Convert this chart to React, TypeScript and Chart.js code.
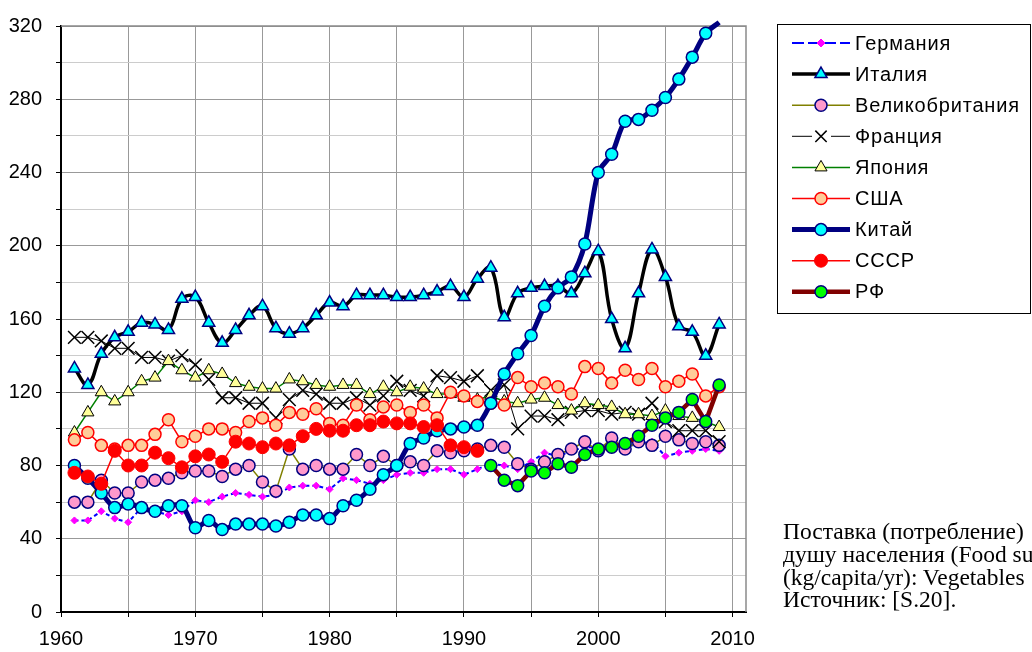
import React, { useEffect, useRef } from "react";
import { Chart, registerables } from "chart.js";
import { drawPoint } from "chart.js/helpers";

Chart.register(...registerables);

const years = [
  1961, 1962, 1963, 1964, 1965, 1966, 1967, 1968, 1969, 1970,
  1971, 1972, 1973, 1974, 1975, 1976, 1977, 1978, 1979, 1980,
  1981, 1982, 1983, 1984, 1985, 1986, 1987, 1988, 1989, 1990,
  1991, 1992, 1993, 1994, 1995, 1996, 1997, 1998, 1999, 2000,
  2001, 2002, 2003, 2004, 2005, 2006, 2007, 2008, 2009,
];

const germany = [
  50, 50, 55, 51, 49, 57, 55, 53, 55, 61,
  60, 63, 65, 64, 63, 64, 68, 69, 69, 67,
  73, 72, 70, 72, 75, 76, 76, 78, 78, 75,
  78, 81, 80, 78, 82, 87, 85, 88, 90, 90,
  92, 90, 92, 93, 85, 87, 88, 89, 88,
];
const italy = [
  133, 124, 141, 150, 153, 158, 157, 154, 171, 172,
  158, 147, 154, 162, 167, 155, 152, 155, 162, 169,
  167, 173, 173, 173, 172, 172, 173, 175, 178, 172,
  182, 188, 161, 174, 177, 178, 178, 174, 185, 197,
  160, 144, 174, 198, 183, 156, 153, 140, 157,
];
const uk = [
  60, 60, 72, 65, 65, 71, 72, 73, 76, 77,
  77, 74, 78, 80, 71, 66, 89, 78, 80, 78,
  78, 86, 80, 85, 80, 82, 80, 88, 87, 88,
  89, 91, 90, 81, 78, 82, 86, 89, 93, 88,
  95, 89, 93, 91, 96, 94, 92, 93, 91,
];
const france = [
  150, 150, 148, 144, 144, 139, 139, 137, 140, 135,
  127, 117, 117, 114, 114, 106, 116, 121, 119, 114,
  114, 117, 113, 118, 126, 121, 118, 129, 128, 126,
  129, 121, 124, 100, 107, 107, 105, 109, 110, 110,
  108, 109, 108, 114, 104, 99, 99, 99, 93,
];
const japan = [
  98, 109, 120, 115, 120, 126, 128, 137, 132, 128,
  132, 130, 125, 123, 122, 122, 127, 126, 124, 123,
  124, 124, 119, 123, 120, 123, 122, 119, 119, 117,
  116, 118, 115, 114, 116, 117, 113, 110, 114, 113,
  112, 108, 108, 107, 110, 107, 106, 104, 101,
];
const usa = [
  94, 98, 91, 89, 91, 91, 97, 105, 93, 96,
  100, 100, 98, 104, 106, 102, 109, 108, 111, 103,
  102, 113, 105, 112, 113, 109, 113, 106, 120, 118,
  115, 114, 113, 128, 123, 125, 123, 119, 134, 133,
  125, 132, 127, 133, 123, 126, 130, 118, 123,
];
const china = [
  80, 73, 65, 57, 59, 57, 55, 58, 58, 46,
  50, 45, 48, 48, 48, 47, 49, 53, 53, 51,
  58, 61, 67, 75, 80, 92, 95, 99, 100, 101,
  102, 114, 130, 141, 151, 167, 177, 183, 201, 240,
  250, 268, 269, 274, 281, 291, 303, 316, 322,
];
// 1961-1991
const ussr = [
  76, 74, 70, 88, 80, 80, 87, 84, 79, 85,
  86, 82, 93, 92, 90, 92, 91, 96, 100, 99,
  99, 102, 102, 104, 103, 103, 101, 102, 91, 90,
  88,
];
// 1992-2009
const rf = [
  80, 72, 69, 77, 76, 81, 79, 86, 89, 90,
  92, 96, 102, 106, 109, 116, 104, 124,
];

const seriesNames = [
  "Германия", "Италия", "Великобритания", "Франция", "Япония",
  "США", "Китай", "СССР", "РФ",
];

const captionLines = [
  "Поставка (потребление)",
  "душу населения (Food supply",
  "(kg/capita/yr): Vegetables",
  "Источник: [S.20].",
];

const FONT = '"Liberation Sans", Arial, sans-serif';

function toXY(yrs: number[], vals: number[]) {
  return vals.map((v, i) => ({ x: yrs[i], y: v }));
}

const legendPlugin = {
  id: "boxLegend",
  afterDraw(chart: any) {
    const ctx = chart.ctx as CanvasRenderingContext2D;
    ctx.save();
    ctx.strokeStyle = "#000";
    ctx.lineWidth = 1;
    ctx.setLineDash([]);
    ctx.strokeRect(777.5, 24.5, 253, 289);
    chart.data.datasets.forEach((ds: any, i: number) => {
      const y = 43 + i * 31.1;
      ctx.save();
      ctx.strokeStyle = ds.borderColor;
      ctx.lineWidth = ds.borderWidth;
      ctx.setLineDash(ds.legendDash || []);
      ctx.lineCap = "butt";
      ctx.beginPath();
      if (ds.legendGap) {
        ctx.moveTo(792, y);
        ctx.lineTo(812, y);
        ctx.moveTo(831, y);
        ctx.lineTo(850, y);
      } else {
        ctx.moveTo(792, y);
        ctx.lineTo(850, y);
      }
      ctx.stroke();
      ctx.restore();
      ctx.save();
      ctx.setLineDash([]);
      ctx.fillStyle = ds.pointBackgroundColor;
      ctx.strokeStyle = ds.pointBorderColor;
      ctx.lineWidth = ds.pointBorderWidth;
      drawPoint(
        ctx,
        {
          pointStyle: ds.pointStyle,
          rotation: 0,
          radius: ds.legendRadius,
          borderWidth: ds.pointBorderWidth,
        } as any,
        821,
        y
      );
      ctx.restore();
      ctx.save();
      ctx.fillStyle = "#000";
      ctx.font = `20px ${FONT}`;
      (ctx as any).letterSpacing = "0.8px";
      ctx.textBaseline = "middle";
      ctx.textAlign = "left";
      ctx.fillText(ds.label, 855, y + 1);
      ctx.restore();
    });
    ctx.restore();
  },
};

const borderPlugin = {
  id: "plotBorder",
  beforeDatasetsDraw(chart: any) {
    const { ctx, chartArea } = chart;
    ctx.save();
    ctx.strokeStyle = "#8a8a8a";
    ctx.lineWidth = 1.5;
    ctx.beginPath();
    ctx.moveTo(chartArea.left, chartArea.top);
    ctx.lineTo(chartArea.right, chartArea.top);
    ctx.lineTo(chartArea.right, chartArea.bottom);
    ctx.stroke();
    ctx.restore();
  },
};

export default function App() {
  const ref = useRef<HTMLCanvasElement | null>(null);

  useEffect(() => {
    if (!ref.current) return;
    const ussrYears = years.slice(0, ussr.length);
    const rfYears = years.slice(years.length - rf.length);
    const lastChina = china.length - 1;

    const datasets: any[] = [
      {
        label: seriesNames[0],
        data: toXY(years, germany),
        borderColor: "#0000FF",
        borderWidth: 2,
        borderDash: [4, 3],
        legendDash: [12, 4],
        pointStyle: "rectRot",
        pointRadius: 3.5,
        legendRadius: 4,
        pointBackgroundColor: "#FF00FF",
        pointBorderColor: "#FF00FF",
        pointBorderWidth: 1,
        order: 9,
      },
      {
        label: seriesNames[1],
        data: toXY(years, italy),
        borderColor: "#000000",
        borderWidth: 3.5,
        tension: 0.4,
        pointStyle: "triangle",
        pointRadius: 7,
        legendRadius: 7,
        pointBackgroundColor: "#00FFFF",
        pointBorderColor: "#000080",
        pointBorderWidth: 1.5,
        order: 8,
      },
      {
        label: seriesNames[2],
        data: toXY(years, uk),
        borderColor: "#808000",
        borderWidth: 1.5,
        pointStyle: "circle",
        pointRadius: 6,
        legendRadius: 6,
        pointBackgroundColor: "#FF99CC",
        pointBorderColor: "#000080",
        pointBorderWidth: 1.5,
        order: 7,
      },
      {
        label: seriesNames[3],
        data: toXY(years, france),
        borderColor: "#000000",
        borderWidth: 1,
        pointStyle: "crossRot",
        pointRadius: 9,
        legendRadius: 8,
        pointBackgroundColor: "#000000",
        pointBorderColor: "#000000",
        pointBorderWidth: 1.5,
        legendGap: true,
        order: 6,
      },
      {
        label: seriesNames[4],
        data: toXY(years, japan),
        borderColor: "#008000",
        borderWidth: 1.5,
        pointStyle: "triangle",
        pointRadius: 7,
        legendRadius: 7,
        pointBackgroundColor: "#FFFF99",
        pointBorderColor: "#000000",
        pointBorderWidth: 1,
        order: 5,
      },
      {
        label: seriesNames[5],
        data: toXY(years, usa),
        borderColor: "#FF0000",
        borderWidth: 1.5,
        pointStyle: "circle",
        pointRadius: 6,
        legendRadius: 6,
        pointBackgroundColor: "#FFCC99",
        pointBorderColor: "#FF0000",
        pointBorderWidth: 1.5,
        order: 4,
      },
      {
        label: seriesNames[6],
        data: toXY(years, china),
        borderColor: "#000080",
        borderWidth: 5,
        tension: 0.3,
        pointStyle: "circle",
        pointRadius: (c: any) => (c.dataIndex === lastChina ? 0 : 6),
        legendRadius: 6,
        pointBackgroundColor: "#00FFFF",
        pointBorderColor: "#000080",
        pointBorderWidth: 1.5,
        clip: { left: 3, top: 6, right: 3, bottom: 3 },
        order: 3,
      },
      {
        label: seriesNames[7],
        data: toXY(ussrYears, ussr),
        borderColor: "#FF0000",
        borderWidth: 1.5,
        pointStyle: "circle",
        pointRadius: 6.5,
        legendRadius: 6.5,
        pointBackgroundColor: "#FF0000",
        pointBorderColor: "#FF0000",
        pointBorderWidth: 1,
        order: 2,
      },
      {
        label: seriesNames[8],
        data: toXY(rfYears, rf),
        borderColor: "#800000",
        borderWidth: 4.5,
        pointStyle: "circle",
        pointRadius: 6,
        legendRadius: 6,
        pointBackgroundColor: "#00FF00",
        pointBorderColor: "#000080",
        pointBorderWidth: 1.5,
        order: 1,
      },
    ];

    const chart = new Chart(ref.current, {
      type: "line",
      data: { datasets },
      options: {
        animation: false,
        responsive: false,
        devicePixelRatio: 1,
        layout: { padding: { left: 0, right: 286, top: 19, bottom: 0 } },
        plugins: {
          legend: { display: false },
          tooltip: { enabled: false },
        },
        scales: {
          x: {
            type: "linear",
            min: 1960,
            max: 2011,
            afterFit: (s: any) => {
              s.height = 40;
            },
            ticks: {
              stepSize: 5,
              includeBounds: false,
              autoSkip: false,
              maxRotation: 0,
              padding: 10,
              color: "#000",
              font: { family: FONT, size: 20 },
              callback: (v: any) => (Number(v) % 10 === 0 ? String(v) : ""),
            },
            grid: {
              color: "#999999",
              lineWidth: 1,
              tickLength: 5,
              tickColor: "#000",
            },
            border: { color: "#000", width: 2 },
          },
          y: {
            type: "linear",
            min: 0,
            max: 320,
            afterFit: (s: any) => {
              s.width = 61;
            },
            ticks: {
              stepSize: 20,
              autoSkip: false,
              padding: 14,
              color: "#000",
              font: { family: FONT, size: 20 },
              callback: (v: any) => (Number(v) % 40 === 0 ? String(v) : ""),
            },
            grid: {
              color: (c: any) =>
                c.tick && c.tick.value % 40 === 0 ? "#999999" : "#cccccc",
              lineWidth: 1,
              tickLength: 5,
              tickColor: "#000",
            },
            border: { color: "#000", width: 2 },
          },
        },
      } as any,
      plugins: [borderPlugin, legendPlugin],
    });
    return () => chart.destroy();
  }, []);

  return (
    <div
      style={{
        position: "absolute",
        left: 0,
        top: 0,
        width: 1032,
        height: 652,
        overflow: "hidden",
        background: "#fff",
      }}
    >
      <canvas ref={ref} width={1032} height={652} style={{ display: "block" }} />
      <div
        style={{
          position: "absolute",
          left: 783,
          top: 520,
          width: 249,
          overflow: "hidden",
          whiteSpace: "nowrap",
          fontFamily: '"Liberation Serif", "Times New Roman", serif',
          fontSize: 23.5,
          lineHeight: "22.8px",
          color: "#000",
        }}
      >
        {captionLines.map((l) => (
          <div key={l}>{l}</div>
        ))}
      </div>
    </div>
  );
}
